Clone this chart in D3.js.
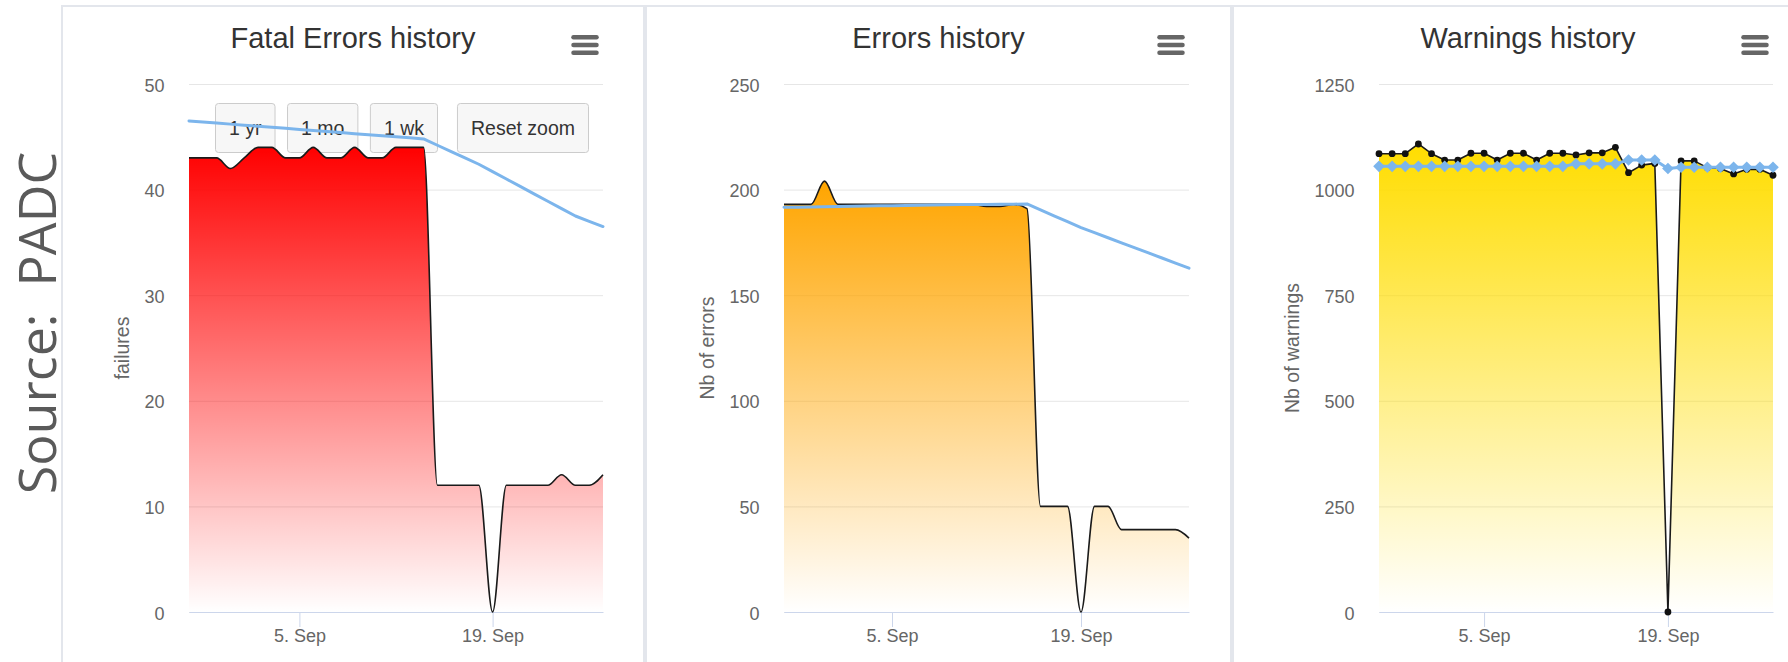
<!DOCTYPE html>
<html>
<head>
<meta charset="utf-8">
<script src="https://cdn.jsdelivr.net/npm/d3@7"></script>
<style>
  html, body { margin: 0; padding: 0; background: #fff; }
  svg { display: block; }
</style>
</head>
<body>
<div id="chart"></div>
<script>
// daily points, 28 Aug .. 27 Sep
const days = [
  '2018-08-28', '2018-08-29', '2018-08-30', '2018-08-31', '2018-09-01', '2018-09-02',
  '2018-09-03', '2018-09-04', '2018-09-05', '2018-09-06', '2018-09-07', '2018-09-08',
  '2018-09-09', '2018-09-10', '2018-09-11', '2018-09-12', '2018-09-13', '2018-09-14',
  '2018-09-15', '2018-09-16', '2018-09-17', '2018-09-18', '2018-09-19', '2018-09-20',
  '2018-09-21', '2018-09-22', '2018-09-23', '2018-09-24', '2018-09-25', '2018-09-26',
  '2018-09-27'
];
const xTickDays = ['2018-09-05', '2018-09-19'];

const fatalErrors = [43, 43, 43, 42, 43, 44, 44, 43, 43, 44, 43, 43, 44, 43, 43, 44,
  44, 44, 12, 12, 12, 12, 0, 12, 12, 12, 12, 13, 12, 12, 13];
const fatalTrend = [46.5, 46.4, 46.3, 46.2, 46.1, 46.0, 45.9, 45.8, 45.7, 45.6, 45.5,
  45.4, 45.3, 45.2, 45.1, 45.0, 44.9, 44.8, 44.2, 43.6, 43.0, 42.4, 41.7, 41.0, 40.3,
  39.6, 38.9, 38.2, 37.5, 37.0, 36.5];

const errors = [193, 193, 193, 204, 193, 193, 193, 193, 193, 193, 193, 193, 193, 193,
  193, 192, 192, 193, 191, 50, 50, 50, 0, 50, 50, 39, 39, 39, 39, 39, 35];
const errorsTrend = [191.6, 191.7, 191.8, 191.9, 192.0, 192.1, 192.2, 192.3, 192.4,
  192.5, 192.6, 192.7, 192.8, 192.9, 193.0, 193.0, 193.1, 193.1, 193.2, 190.4, 187.6,
  184.8, 182.0, 179.6, 177.2, 174.8, 172.4, 170.0, 167.6, 165.2, 162.8];

const warnings = [1085, 1085, 1085, 1108, 1085, 1070, 1070, 1086, 1086, 1070, 1086,
  1086, 1070, 1086, 1086, 1082, 1087, 1087, 1100, 1040, 1058, 1062, 0, 1068, 1068,
  1052, 1050, 1037, 1048, 1048, 1034];
const warningsTrend = [1055, 1055, 1055, 1055, 1055, 1055, 1055, 1055, 1055, 1055,
  1055, 1055, 1055, 1055, 1055, 1061, 1061, 1061, 1061, 1070, 1070, 1070, 1050, 1053,
  1053, 1053, 1053, 1053, 1053, 1053, 1053];

const fatalTicks = [0, 10, 20, 30, 40, 50];
const errorsTicks = [0, 50, 100, 150, 200, 250];
const warningsTicks = [0, 250, 500, 750, 1000, 1250];

const chartTitles = ['Fatal Errors history', 'Errors history', 'Warnings history'];
const yTitles = ['failures', 'Nb of errors', 'Nb of warnings'];
const rangeButtons = ['1 yr', '1 mo', '1 wk'];
const resetButton = 'Reset zoom';
const sourceLabel = 'Source:  PADC';

const parse = d3.utcParse('%Y-%m-%d');
const fmt = d3.utcFormat('%-d. %b');

const plotTop = 84, plotBottom = 612;

const charts = [
  { title: chartTitles[0], yTitle: yTitles[0], values: fatalErrors, trend: fatalTrend,
    ticks: fatalTicks, color: '#ff0000', smooth: true, markers: false, buttons: true,
    panel: [62, 582], plot: [189, 603] },
  { title: chartTitles[1], yTitle: yTitles[1], values: errors, trend: errorsTrend,
    ticks: errorsTicks, color: '#ffa500', smooth: true, markers: false, buttons: false,
    panel: [646, 585], plot: [784, 1189] },
  { title: chartTitles[2], yTitle: yTitles[2], values: warnings, trend: warningsTrend,
    ticks: warningsTicks, color: '#ffdd00', smooth: false, markers: true, buttons: false,
    panel: [1233, 590], plot: [1379, 1773] }
];

const svg = d3.select('#chart').append('svg')
  .attr('width', 1788)
  .attr('height', 662)
  .style('font-family', '"Liberation Sans", Arial, Helvetica, sans-serif');

const defs = svg.append('defs');

svg.append('text')
  .attr('transform', 'translate(56,323) rotate(-90)')
  .attr('text-anchor', 'middle')
  .style('font-family', '"Open Sans", sans-serif')
  .style('font-size', '52px')
  .style('white-space', 'pre')
  .attr('fill', '#5a5a5a')
  .text(sourceLabel);

charts.forEach(function (c, i) {
  const g = svg.append('g');
  const [left, right] = c.plot;
  const width = right - left;

  // panel frame
  g.append('rect')
    .attr('x', c.panel[0])
    .attr('y', 6)
    .attr('width', c.panel[1])
    .attr('height', 700)
    .attr('fill', '#fff')
    .attr('stroke', '#e3e6ec')
    .attr('stroke-width', 2);

  const x = d3.scaleUtc()
    .domain([parse(days[0]), parse(days[days.length - 1])])
    .range([left, right]);

  const y = d3.scaleLinear()
    .domain([0, d3.max(c.ticks)])
    .range([plotBottom, plotTop]);

  // title
  g.append('text')
    .attr('x', c.panel[0] + c.panel[1] / 2)
    .attr('y', 48)
    .attr('text-anchor', 'middle')
    .attr('fill', '#333')
    .style('font-size', '29px')
    .text(c.title);

  // menu icon
  const mx = right - 18;
  [37.3, 45, 52.7].forEach(function (my) {
    g.append('line')
      .attr('x1', mx - 11.5).attr('x2', mx + 11.5)
      .attr('y1', my).attr('y2', my)
      .attr('stroke', '#666')
      .attr('stroke-width', 4.5)
      .attr('stroke-linecap', 'round');
  });

  // y axis with grid
  const yAxis = g.append('g')
    .attr('transform', `translate(${left},0)`)
    .call(d3.axisLeft(y)
      .tickValues(c.ticks)
      .tickFormat(d3.format('d'))
      .tickSize(-width)
      .tickPadding(24.5));
  yAxis.select('.domain').remove();
  yAxis.selectAll('.tick line')
    .attr('stroke', '#e6e6e6')
    .attr('stroke-width', 1);
  yAxis.selectAll('.tick text')
    .attr('dy', '0.39em')
    .attr('fill', '#666')
    .style('font-size', '18px')
    .style('font-family', '"Liberation Sans", Arial, sans-serif');

  const labelW = d3.max(yAxis.selectAll('.tick text').nodes(), n => n.getComputedTextLength());
  const titleX = left - 24.5 - labelW - 15;

  g.append('text')
    .attr('transform', `translate(${titleX},${(plotTop + plotBottom) / 2}) rotate(-90)`)
    .attr('text-anchor', 'middle')
    .attr('fill', '#666')
    .style('font-size', '19.5px')
    .text(c.yTitle);

  // x axis
  const xAxis = g.append('g')
    .attr('transform', `translate(0,${plotBottom})`)
    .call(d3.axisBottom(x)
      .tickValues(xTickDays.map(parse))
      .tickFormat(fmt)
      .tickSizeInner(15)
      .tickSizeOuter(0)
      .tickPadding(2.2));
  xAxis.select('.domain').attr('stroke', '#ccd6eb');
  xAxis.selectAll('.tick line').attr('stroke', '#ccd6eb');
  xAxis.selectAll('.tick text')
    .attr('fill', '#666')
    .style('font-size', '18px')
    .style('font-family', '"Liberation Sans", Arial, sans-serif');

  // zoom buttons
  if (c.buttons) {
    const btnG = g.append('g');
    let bx = left + 26;
    const addButton = function (label, atX) {
      const b = btnG.append('g');
      const t = b.append('text')
        .attr('y', 128 + 6.8)
        .attr('text-anchor', 'middle')
        .attr('fill', '#333')
        .style('font-size', '19.5px')
        .text(label);
      const w = t.node().getComputedTextLength() + 27;
      const x0 = atX === undefined ? bx : atX(w);
      b.insert('rect', 'text')
        .attr('x', x0 + 0.5)
        .attr('y', 103.5)
        .attr('width', w)
        .attr('height', 49)
        .attr('rx', 3)
        .attr('fill', '#f7f7f7')
        .attr('stroke', '#cccccc');
      t.attr('x', x0 + 0.5 + w / 2);
      return w;
    };
    rangeButtons.forEach(function (label) {
      const w = addButton(label);
      bx += w + 12.5;
    });
    addButton(resetButton, w => right - 15 - w);
  }

  // area series
  const pts = days.map((d, k) => ({ date: parse(d), v: c.values[k] }));
  const trendPts = days.map((d, k) => ({ date: parse(d), v: c.trend[k] }));
  const curve = c.smooth ? d3.curveMonotoneX : d3.curveLinear;

  const grad = defs.append('linearGradient')
    .attr('id', 'grad' + i)
    .attr('x1', 0).attr('y1', 0)
    .attr('x2', 0).attr('y2', 1);
  grad.append('stop').attr('offset', 0)
    .attr('stop-color', c.color).attr('stop-opacity', 1);
  grad.append('stop').attr('offset', 1)
    .attr('stop-color', c.color).attr('stop-opacity', 0);

  g.append('path')
    .datum(pts)
    .attr('fill', `url(#grad${i})`)
    .attr('d', d3.area()
      .x(d => x(d.date))
      .y0(y(0))
      .y1(d => y(d.v))
      .curve(curve));

  g.append('path')
    .datum(pts)
    .attr('fill', 'none')
    .attr('stroke', '#1a1a1a')
    .attr('stroke-width', 1.6)
    .attr('stroke-linejoin', 'round')
    .attr('d', d3.line()
      .x(d => x(d.date))
      .y(d => y(d.v))
      .curve(curve));

  if (c.markers) {
    g.append('g').selectAll('circle')
      .data(pts)
      .join('circle')
      .attr('cx', d => x(d.date))
      .attr('cy', d => y(d.v))
      .attr('r', 3.4)
      .attr('fill', '#111');
  }

  // trend line
  g.append('path')
    .datum(trendPts)
    .attr('fill', 'none')
    .attr('stroke', '#7cb5ec')
    .attr('stroke-width', 3)
    .attr('stroke-linejoin', 'round')
    .attr('stroke-linecap', 'round')
    .attr('d', d3.line()
      .x(d => x(d.date))
      .y(d => y(d.v)));

  if (c.markers) {
    const r = 5.8;
    g.append('g').selectAll('path')
      .data(trendPts)
      .join('path')
      .attr('transform', d => `translate(${x(d.date)},${y(d.v)})`)
      .attr('d', `M0,${-r}L${r},0L0,${r}L${-r},0Z`)
      .attr('fill', '#7cb5ec');
  }
});
</script>
</body>
</html>
